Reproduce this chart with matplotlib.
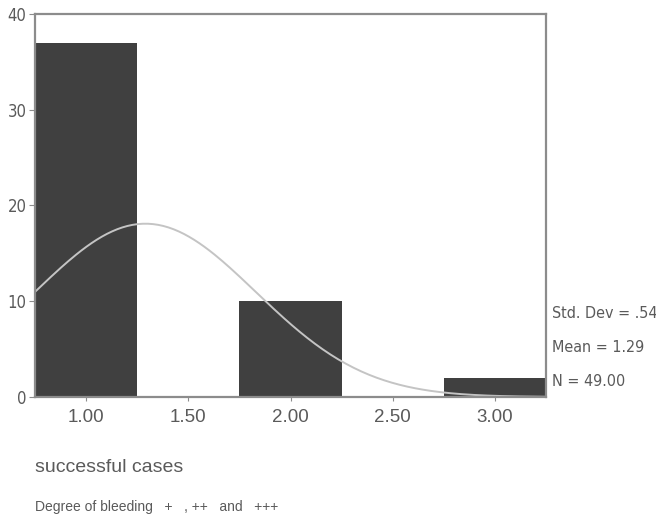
import numpy as np, matplotlib
matplotlib.use("Agg"); import matplotlib.pyplot as plt

GRAY="#5a5a5a";BAR="#404040";CURVE="#c4c4c4";SPINE="#8c8c8c"
plt.rcParams.update({"font.family":"Liberation Sans","text.color":GRAY,"xtick.color":GRAY,"ytick.color":GRAY})
NARROW=dict(family="DejaVu Sans",stretch="condensed")

# histogram data
bin_centers=[1.0,2.0,3.0]
counts=[37,10,2]
bin_width=0.5
mean=1.29;sd=0.54;n=49
xticks=[1.0,1.5,2.0,2.5,3.0]
xticklabels=["1.00","1.50","2.00","2.50","3.00"]
yticks=[0,10,20,30,40]

fig=plt.figure(figsize=(6.56,5.25),dpi=100)
ax=fig.add_axes([35/656,1-397/525,511/656,383/525])
ax.bar(bin_centers,counts,width=bin_width,color=BAR,edgecolor=BAR,lw=0)
xs=np.linspace(0.75,3.25,200)
ax.plot(xs,n*bin_width/(sd*np.sqrt(2*np.pi))*np.exp(-0.5*((xs-mean)/sd)**2),color=CURVE,lw=1.4)
ax.set_xlim(0.75,3.25);ax.set_ylim(0,40)
ax.set_xticks(xticks);ax.set_xticklabels(xticklabels,fontsize=13.5)
ax.set_yticks(yticks);ax.set_yticklabels([str(v) for v in yticks],fontsize=12,**NARROW)
ax.tick_params(axis="x",length=3,pad=6,color=SPINE)
ax.tick_params(axis="y",length=4,pad=2,color=SPINE)
for s in ax.spines.values():s.set_color(SPINE);s.set_linewidth(1.6)

for i,t in enumerate(["Std. Dev = .54","Mean = 1.29","N = 49.00"]):
    fig.text(552/656,1-(313+i*34)/525,t,fontsize=11.5,va="center",ha="left",**NARROW)
fig.text(35/656,1-468/525,"successful cases",fontsize=14,va="center")
fig.text(35/656,1-507/525,"Degree of bleeding   +   , ++   and   +++",fontsize=10,va="center")
fig.savefig("out.png",dpi=100)
